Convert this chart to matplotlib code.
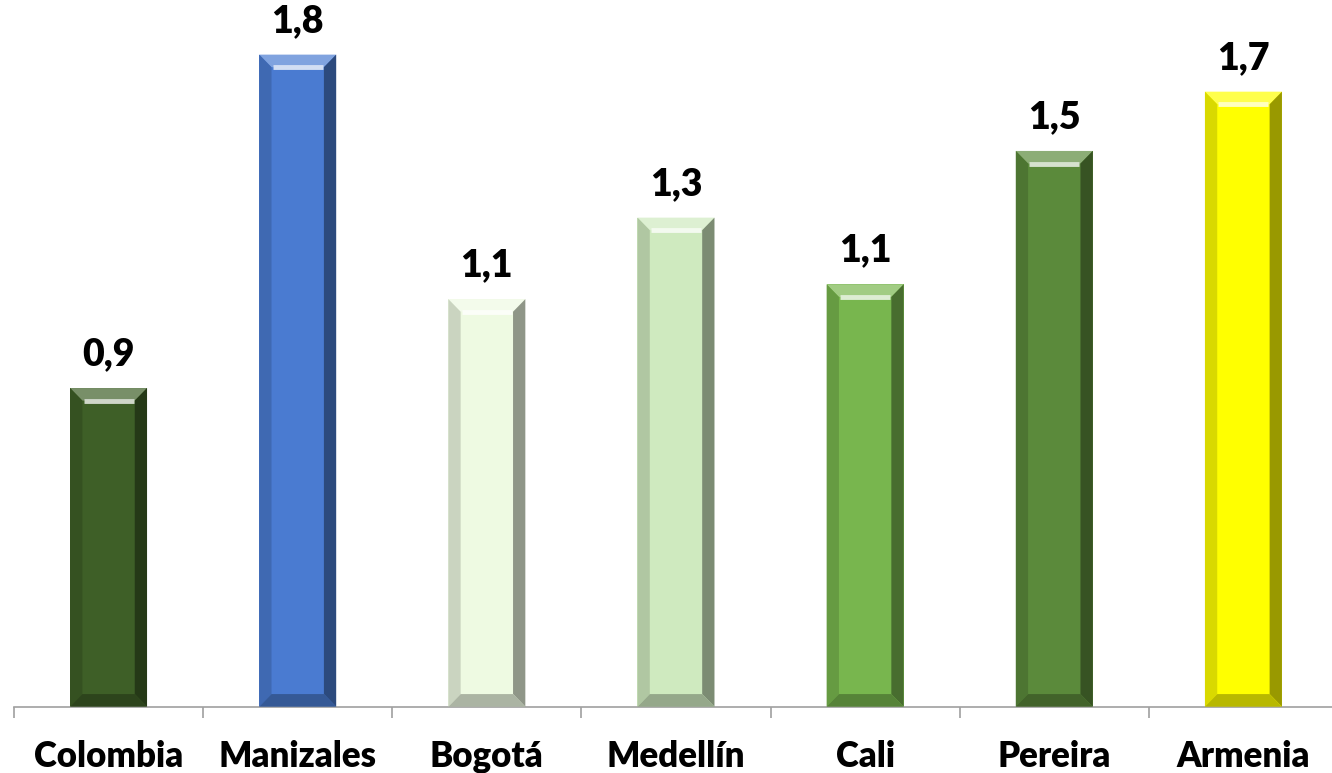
import matplotlib.pyplot as plt
import matplotlib.colors as mcolors
from matplotlib.patches import Polygon
import numpy as np

ciudades = ["Colombia", "Manizales", "Bogotá", "Medellín", "Cali", "Pereira", "Armenia"]
valores = [0.86, 1.76, 1.10, 1.32, 1.14, 1.50, 1.66]
colores = ["#3e5f27", "#4a7bd1", "#eefae2", "#cfeabf", "#78b64e", "#5b8a3b", "#ffff00"]


def mezcla(color, otro, t):
    c = np.array(mcolors.to_rgb(color))
    o = np.array(mcolors.to_rgb(otro))
    return tuple(c * (1 - t) + o * t)


def bisel(ax, rect, color, bx=0.065, by=0.034):
    # caras del bisel a partir del rectangulo de la barra
    x0, y0 = rect.get_x(), rect.get_y()
    x1, y1 = x0 + rect.get_width(), y0 + rect.get_height()
    caras = [
        ([(x0, y1), (x1, y1), (x1 - bx, y1 - by), (x0 + bx, y1 - by)], mezcla(color, "white", 0.3)),
        ([(x0, y0), (x0 + bx, y0 + by), (x0 + bx, y1 - by), (x0, y1)], mezcla(color, "black", 0.15)),
        ([(x1, y0), (x1, y1), (x1 - bx, y1 - by), (x1 - bx, y0 + by)], mezcla(color, "black", 0.4)),
        ([(x0, y0), (x1, y0), (x1 - bx, y0 + by), (x0 + bx, y0 + by)], mezcla(color, "black", 0.28)),
    ]
    for pts, c in caras:
        ax.add_patch(Polygon(pts, closed=True, facecolor=c, edgecolor="none", zorder=3))
    # brillo blanco bajo el bisel superior
    ax.plot([x0 + bx * 1.1, x1 - bx * 1.1], [y1 - by * 1.0] * 2,
            color=mezcla(color, "white", 0.75), lw=3.5, solid_capstyle="butt", zorder=4)


fig = plt.figure(figsize=(13.32, 7.73), dpi=100)
ax = fig.add_axes([0.0105, 0.0858, 0.994, 0.914])

x = np.arange(len(ciudades))
barras = ax.bar(x, valores, width=0.407, color=colores, zorder=2)

for rect, col, v in zip(barras, colores, valores):
    bisel(ax, rect, col)
    ax.annotate(f"{v:.1f}".replace(".", ","), (rect.get_x() + rect.get_width() / 2, v),
                xytext=(0, 12), textcoords="offset points", ha="center", va="bottom",
                fontsize=27, fontweight="heavy", family="Lato", color="black")

ax.set_xlim(-0.5, len(ciudades) - 0.5)
ax.set_ylim(0, 1.907)

for s in ["top", "right", "left"]:
    ax.spines[s].set_visible(False)
ax.spines["bottom"].set_color("#a0a0a0")
ax.spines["bottom"].set_linewidth(1.2)
ax.set_yticks([])

ax.set_xticks(np.arange(len(ciudades) + 1) - 0.5)
ax.set_xticklabels([])
ax.tick_params(axis="x", which="major", length=8, width=1.2, color="#a0a0a0")
ax.set_xticks(x, minor=True)
ax.set_xticklabels(ciudades, minor=True, fontsize=25, fontweight="heavy", family="Lato")
ax.tick_params(axis="x", which="minor", length=0, pad=24)

fig.savefig("out.png", dpi=100)
